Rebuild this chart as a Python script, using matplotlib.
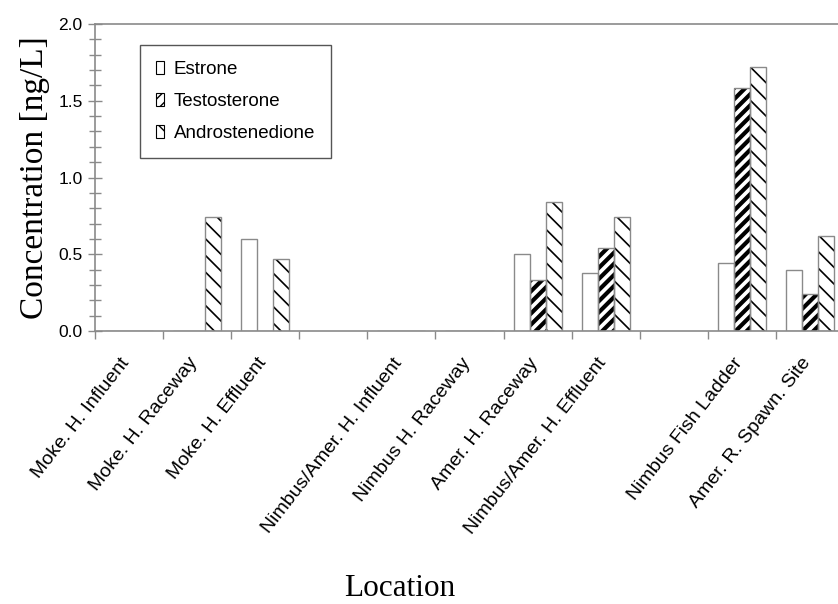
import matplotlib.pyplot as plt
import matplotlib.transforms as mtransforms
import numpy as np
from matplotlib.patches import Patch


# one entry per slot on the x axis, "" marks an empty gap slot
SLOTS = [
    "Moke. H. Influent",
    "Moke. H. Raceway",
    "Moke. H. Effluent",
    "",
    "Nimbus/Amer. H. Influent",
    "Nimbus H. Raceway",
    "Amer. H. Raceway",
    "Nimbus/Amer. H. Effluent",
    "",
    "Nimbus Fish Ladder",
    "Amer. R. Spawn. Site",
]

SERIES = ["Estrone", "Testosterone", "Androstenedione"]

# values per non-empty slot, in ng/L
ESTRONE = [0.0, 0.0, 0.60, 0.0, 0.0, 0.50, 0.38, 0.44, 0.40]
TESTOSTERONE = [0.0, 0.0, 0.0, 0.0, 0.0, 0.33, 0.54, 1.58, 0.24]
ANDROSTENEDIONE = [0.0, 0.74, 0.47, 0.0, 0.0, 0.84, 0.74, 1.72, 0.62]

Y_TICKS = [0.0, 0.5, 1.0, 1.5, 2.0]

SANS = "Liberation Sans"
SERIF = "Liberation Serif"
EDGE = "#8a8a8a"

STYLES = [
    {"hatch": None, "hatch_lw": 1.0},
    {"hatch": "///", "hatch_lw": 3.0},
    {"hatch": "\\\\", "hatch_lw": 1.2},
]


def main():
    fig = plt.figure(figsize=(8.38, 6.04), dpi=100)
    ax = fig.add_axes([95 / 838, 273 / 604, 749 / 838, 307 / 604])

    filled = [i for i, name in enumerate(SLOTS) if name]
    centers = np.array(filled) + 0.5
    width = 0.235
    offsets = [-width, 0.0, width]

    for values, offset, style in zip([ESTRONE, TESTOSTERONE, ANDROSTENEDIONE], offsets, STYLES):
        with plt.rc_context({"hatch.linewidth": style["hatch_lw"], "hatch.color": "black"}):
            if style["hatch"]:
                ax.bar(centers + offset, values, width, color="white", edgecolor="black",
                       linewidth=0, hatch=style["hatch"], zorder=2)
        ax.bar(centers + offset, values, width, facecolor="none", edgecolor=EDGE,
               linewidth=1.0, zorder=3)

    ax.set_xlim(0, len(SLOTS))
    ax.set_ylim(0, 2.0)

    # slot separators as visible minor ticks, labels on invisible major ticks
    ax.set_xticks(np.arange(len(SLOTS)), minor=True)
    ax.set_xticks(centers)
    ax.set_xticklabels([SLOTS[i] for i in filled], rotation=52, ha="right", va="top",
                       rotation_mode="anchor", fontsize=14, fontfamily=SANS)
    ax.tick_params(axis="x", which="major", length=0, pad=17)
    ax.tick_params(axis="x", which="minor", length=6, width=1, color=EDGE, direction="out")
    shift = mtransforms.ScaledTranslation(-9 / 100, 0, fig.dpi_scale_trans)
    for label in ax.get_xticklabels():
        label.set_transform(label.get_transform() + shift)

    ax.set_yticks(Y_TICKS)
    ax.set_yticklabels([f"{v:.1f}" for v in Y_TICKS], fontsize=12.5, fontfamily=SANS)
    ax.set_yticks(np.arange(0, 2.01, 0.1), minor=True)
    ax.tick_params(axis="y", which="major", direction="inout", length=10, width=1,
                   color=EDGE, pad=4)
    ax.tick_params(axis="y", which="minor", direction="inout", length=8, width=1, color=EDGE)

    for side in ["left", "bottom", "top", "right"]:
        ax.spines[side].set_color(EDGE)
        ax.spines[side].set_linewidth(1.2)

    ax.set_ylabel("Concentration [ng/L]", fontsize=24, fontfamily=SERIF, labelpad=6)
    fig.text(400 / 838, 16 / 604, "Location", fontsize=22.5, fontfamily=SERIF,
             ha="center", va="center")

    handles = []
    for name, style in zip(SERIES, STYLES):
        handles.append(Patch(facecolor="white", edgecolor="black", linewidth=0.8,
                             hatch=style["hatch"], label=name))
    legend = ax.legend(handles=handles, loc="upper left", bbox_to_anchor=(45 / 749, 1 - 21 / 307),
                       prop={"family": SANS, "size": 13.5}, handlelength=0.45, handleheight=0.65,
                       handletextpad=0.5, labelspacing=0.8, borderpad=0.85, borderaxespad=0,
                       fancybox=False, framealpha=1, edgecolor="#555555")
    legend.get_frame().set_linewidth(1.0)
    legend.get_frame().set_boxstyle("square", pad=0.0)

    fig.savefig("out.png", dpi=100)


if __name__ == "__main__":
    main()
